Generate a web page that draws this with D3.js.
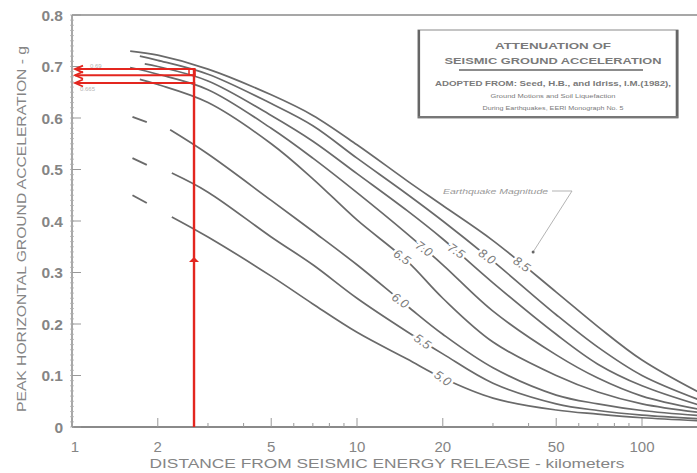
<!DOCTYPE html>
<html><head><meta charset="utf-8">
<script src="https://cdn.jsdelivr.net/npm/d3@7"></script>
<style>
html,body{margin:0;padding:0;background:#fff;}
svg{display:block;font-family:"Liberation Sans",Arial,sans-serif;}
</style></head><body>
<svg id="chart" width="697" height="473"></svg>
<script>
// Attenuation of peak horizontal ground acceleration with distance, by magnitude
const distanceKm = [2, 3, 5, 7, 10, 15, 20, 30, 50, 70, 100, 160];
const magnitudes = ["5.0", "5.5", "6.0", "6.5", "7.0", "7.5", "8.0", "8.5"];
const pgaM50 = [null, 0.369, 0.293, 0.239, 0.184, 0.132, 0.095, 0.056, 0.033, 0.025, 0.018, 0.012];
const pgaM55 = [null, 0.456, 0.369, 0.315, 0.250, 0.185, 0.142, 0.085, 0.045, 0.032, 0.023, 0.016];
const pgaM60 = [null, 0.530, 0.440, 0.380, 0.315, 0.235, 0.180, 0.115, 0.062, 0.045, 0.032, 0.022];
const pgaM65 = [0.665, 0.630, 0.550, 0.482, 0.402, 0.322, 0.250, 0.165, 0.100, 0.068, 0.045, 0.028];
const pgaM70 = [0.685, 0.655, 0.580, 0.522, 0.455, 0.375, 0.315, 0.225, 0.140, 0.095, 0.060, 0.034];
const pgaM75 = [0.700, 0.672, 0.605, 0.555, 0.492, 0.420, 0.365, 0.280, 0.180, 0.122, 0.080, 0.042];
const pgaM80 = [0.712, 0.685, 0.628, 0.585, 0.522, 0.452, 0.400, 0.322, 0.218, 0.155, 0.100, 0.052];
const pgaM85 = [0.722, 0.695, 0.645, 0.605, 0.548, 0.478, 0.430, 0.362, 0.262, 0.195, 0.130, 0.066];
const curveStartKm = [2.24, 2.24, 2.21, 1.73, 1.60, 1.80, 1.73, 1.60];
const curveStartPga = [0.408, 0.493, 0.577, 0.675, 0.698, 0.705, 0.720, 0.730];
// short dashed lead-ins for the three smallest magnitudes
const dashKm = [1.63, 1.83];
const dashPgaM50 = [0.450, 0.435];
const dashPgaM55 = [0.522, 0.509];
const dashPgaM60 = [0.602, 0.592];
const labelKm = [20.0, 17.0, 14.2, 14.4, 17.2, 22.3, 28.6, 37.9];

const xTickValues = [1, 2, 5, 10, 20, 50, 100];
const xTickLabels = ["1", "2", "5", "10", "20", "50", "100"];
const yTickValues = [0, 0.1, 0.2, 0.3, 0.4, 0.5, 0.6, 0.7, 0.8];
const yTickLabels = ["0", "0.1", "0.2", "0.3", "0.4", "0.5", "0.6", "0.7", "0.8"];

// site read-off drawn in red
const siteDistanceKm = 2.68;
const readPga = [0.695, 0.683, 0.668];
const readNotes = ["0.69", "0.665"];
const upArrowPga = 0.33;

const series = [pgaM50, pgaM55, pgaM60, pgaM65, pgaM70, pgaM75, pgaM80, pgaM85];
const dashes = [dashPgaM50, dashPgaM55, dashPgaM60, null, null, null, null, null];

const plotLeft = 72, plotRight = 697, plotTop = 15, plotBottom = 427;
const svg = d3.select("#chart");
const x = d3.scaleLog().domain([1, Math.pow(10, (plotRight - plotLeft) / 285)]).range([plotLeft, plotRight]);
const y = d3.scaleLinear().domain([0, 0.8]).range([plotBottom, plotTop]);

const ink = "#6a6a6a";
const axisText = "#858585";

// frame
svg.append("line").attr("x1", plotLeft).attr("x2", plotRight).attr("y1", plotTop).attr("y2", plotTop)
  .attr("stroke", "#8a8a8a").attr("stroke-width", 1.5);
svg.append("line").attr("x1", plotLeft).attr("x2", plotLeft).attr("y1", plotTop).attr("y2", plotBottom)
  .attr("stroke", "#8a8a8a").attr("stroke-width", 1.5);
svg.append("line").attr("x1", plotLeft).attr("x2", plotRight).attr("y1", plotBottom).attr("y2", plotBottom)
  .attr("stroke", "#8a8a8a").attr("stroke-width", 2);

// y minor ticks every 0.01, major ticks every 0.1
const yMinor = d3.range(0, 81).map(i => i / 100);
svg.append("g").selectAll("line").data(yMinor).join("line")
  .attr("x1", plotLeft - 2).attr("x2", plotLeft + 2)
  .attr("y1", d => y(d)).attr("y2", d => y(d))
  .attr("stroke", "#b0b0b0").attr("stroke-width", 0.8);
svg.append("g").selectAll("line").data(yTickValues).join("line")
  .attr("x1", plotLeft).attr("x2", plotLeft + 9)
  .attr("y1", d => y(d)).attr("y2", d => y(d))
  .attr("stroke", "#999").attr("stroke-width", 1);
svg.append("g").selectAll("text").data(yTickValues).join("text")
  .attr("x", plotLeft - 9).attr("y", d => y(d) + 5.5)
  .attr("text-anchor", "end").attr("font-size", 15.5).attr("font-weight", "bold")
  .attr("fill", axisText)
  .text((d, i) => yTickLabels[i]);

// x ticks: every integer subdivision of each decade
const xMinor = [];
[1, 10, 100].forEach(dec => d3.range(1, 10).forEach(k => { const v = dec * k; if (v <= x.domain()[1]) xMinor.push(v); }));
svg.append("g").selectAll("line").data(xMinor).join("line")
  .attr("x1", d => x(d)).attr("x2", d => x(d))
  .attr("y1", plotBottom).attr("y2", d => plotBottom - (xTickValues.includes(d) ? 9 : 4))
  .attr("stroke", "#9a9a9a").attr("stroke-width", 1);
svg.append("g").selectAll("text").data(xTickValues).join("text")
  .attr("x", d => x(d) + (d === 1 ? 3 : 0)).attr("y", 452)
  .attr("text-anchor", "middle").attr("font-size", 15).attr("fill", axisText)
  .text((d, i) => xTickLabels[i]);

// axis titles
svg.append("text").attr("transform", `translate(26,${(plotTop + plotBottom) / 2 + 8}) rotate(-90)`)
  .attr("text-anchor", "middle").attr("font-size", 13.5).attr("fill", axisText)
  .attr("textLength", 366).attr("lengthAdjust", "spacingAndGlyphs")
  .text("PEAK HORIZONTAL GROUND ACCELERATION - g");
svg.append("text").attr("x", 387).attr("y", 468)
  .attr("text-anchor", "middle").attr("font-size", 13.5).attr("fill", axisText)
  .attr("textLength", 475).attr("lengthAdjust", "spacingAndGlyphs")
  .text("DISTANCE FROM SEISMIC ENERGY RELEASE - kilometers");

// attenuation curves
const line = d3.line().x(d => x(d[0])).y(d => y(d[1])).curve(d3.curveCatmullRom.alpha(0.5));
const curvePoints = series.map((vals, i) => {
  const pts = [[curveStartKm[i], curveStartPga[i]]];
  distanceKm.forEach((d, j) => { if (vals[j] != null && d > curveStartKm[i]) pts.push([d, vals[j]]); });
  return pts;
});
svg.append("g").selectAll("path").data(curvePoints).join("path")
  .attr("d", line).attr("fill", "none").attr("stroke", ink).attr("stroke-width", 1.7)
  .attr("stroke-linejoin", "round");
svg.append("g").selectAll("path").data(dashes.filter(d => d)).join("path")
  .attr("d", vals => line(dashKm.map((d, j) => [d, vals[j]])))
  .attr("fill", "none").attr("stroke", ink).attr("stroke-width", 1.9);

// magnitude labels sit on their curves, breaking the line
function pgaAt(pts, d) {
  for (let k = 1; k < pts.length; k++) {
    if (pts[k][0] >= d) {
      const a = pts[k - 1], b = pts[k];
      const t = (Math.log(d) - Math.log(a[0])) / (Math.log(b[0]) - Math.log(a[0]));
      return a[1] + t * (b[1] - a[1]);
    }
  }
  return pts[pts.length - 1][1];
}
svg.append("g").selectAll("text").data(magnitudes).join("text")
  .attr("transform", (m, i) => `translate(${x(labelKm[i])},${y(pgaAt(curvePoints[i], labelKm[i]))}) rotate(35)`)
  .attr("text-anchor", "middle").attr("dy", "0.35em")
  .attr("font-size", 12.5).attr("font-style", "italic").attr("fill", "#7a7a7a")
  .attr("stroke", "#fff").attr("stroke-width", 5).attr("paint-order", "stroke")
  .text(m => m);

// magnitude note with leader
const noteEnd = [x(41.5), y(0.34)];
svg.append("text").attr("x", 443).attr("y", 194)
  .attr("font-size", 7.5).attr("font-style", "italic").attr("fill", "#999")
  .attr("textLength", 105).attr("lengthAdjust", "spacingAndGlyphs")
  .text("Earthquake Magnitude");
svg.append("path").attr("d", `M552,191 L572,191 L${noteEnd[0]},${noteEnd[1]}`)
  .attr("fill", "none").attr("stroke", "#aaa").attr("stroke-width", 0.9);
svg.append("circle").attr("cx", noteEnd[0]).attr("cy", noteEnd[1]).attr("r", 1.5).attr("fill", "#666");

// citation box
const box = svg.append("g");
box.append("rect").attr("x", 418).attr("y", 30).attr("width", 260).attr("height", 88)
  .attr("fill", "#fff").attr("stroke", "#8a8a8a").attr("stroke-width", 1);
box.append("line").attr("x1", 419).attr("x2", 419).attr("y1", 30).attr("y2", 118).attr("stroke", "#666").attr("stroke-width", 2.2);
box.append("line").attr("x1", 677).attr("x2", 677).attr("y1", 30).attr("y2", 118).attr("stroke", "#666").attr("stroke-width", 2.6);
box.append("line").attr("x1", 418).attr("x2", 678).attr("y1", 117).attr("y2", 117).attr("stroke", "#777").attr("stroke-width", 2);
box.append("line").attr("x1", 459).attr("x2", 643).attr("y1", 70).attr("y2", 70).attr("stroke", "#666").attr("stroke-width", 1.3);
const boxLines = [
  {t: "ATTENUATION OF", y: 48.5, s: 9, w: "bold", len: 116},
  {t: "SEISMIC GROUND ACCELERATION", y: 63.5, s: 9.5, w: "bold", len: 217},
  {t: "ADOPTED FROM: Seed, H.B., and Idriss, I.M.(1982),", y: 85.5, s: 7, w: "bold", len: 236},
  {t: "Ground Motions and Soil Liquefaction", y: 97.5, s: 6, w: "normal", len: 125},
  {t: "During Earthquakes, EERI Monograph No. 5", y: 109.5, s: 6, w: "normal", len: 141}
];
box.selectAll("text.l").data(boxLines).join("text").attr("class", "l")
  .attr("x", 553).attr("y", d => d.y).attr("text-anchor", "middle")
  .attr("font-size", d => d.s).attr("font-weight", d => d.w).attr("fill", "#7a7a7a")
  .attr("textLength", d => d.len).attr("lengthAdjust", "spacingAndGlyphs")
  .text(d => d.t);

// red read-off lines
const red = "#e3261f";
const redG = svg.append("g");
const xs = x(siteDistanceKm);
redG.append("line").attr("x1", xs).attr("x2", xs).attr("y1", y(readPga[0])).attr("y2", plotBottom)
  .attr("stroke", red).attr("stroke-width", 2.4);
redG.selectAll("line.h").data(readPga).join("line").attr("class", "h")
  .attr("x1", plotLeft + 3).attr("x2", xs + 1.2).attr("y1", d => y(d)).attr("y2", d => y(d))
  .attr("stroke", red).attr("stroke-width", 2);
redG.selectAll("path.a").data(readPga).join("path").attr("class", "a")
  .attr("d", d => `M${plotLeft + 11},${y(d) - 3.5} L${plotLeft + 3},${y(d)} L${plotLeft + 11},${y(d) + 3.5}`)
  .attr("fill", "none").attr("stroke", red).attr("stroke-width", 1.8);
redG.append("path")
  .attr("d", `M${xs - 5},${y(upArrowPga) + 5} L${xs},${y(upArrowPga)} L${xs + 5},${y(upArrowPga) + 5} Z`)
  .attr("fill", red);
redG.append("rect").attr("x", xs - 5).attr("y", y(readPga[0])).attr("width", 6).attr("height", y(readPga[1]) - y(readPga[0]))
  .attr("fill", "none").attr("stroke", red).attr("stroke-width", 1.5);

// faint handwritten read-off values
svg.append("text").attr("x", 90).attr("y", 68).attr("font-size", 6).attr("fill", "#b5b5b5").text(readNotes[0]);
svg.append("text").attr("x", 80).attr("y", 91).attr("font-size", 6).attr("fill", "#b5b5b5").text(readNotes[1]);
</script>
</body></html>
